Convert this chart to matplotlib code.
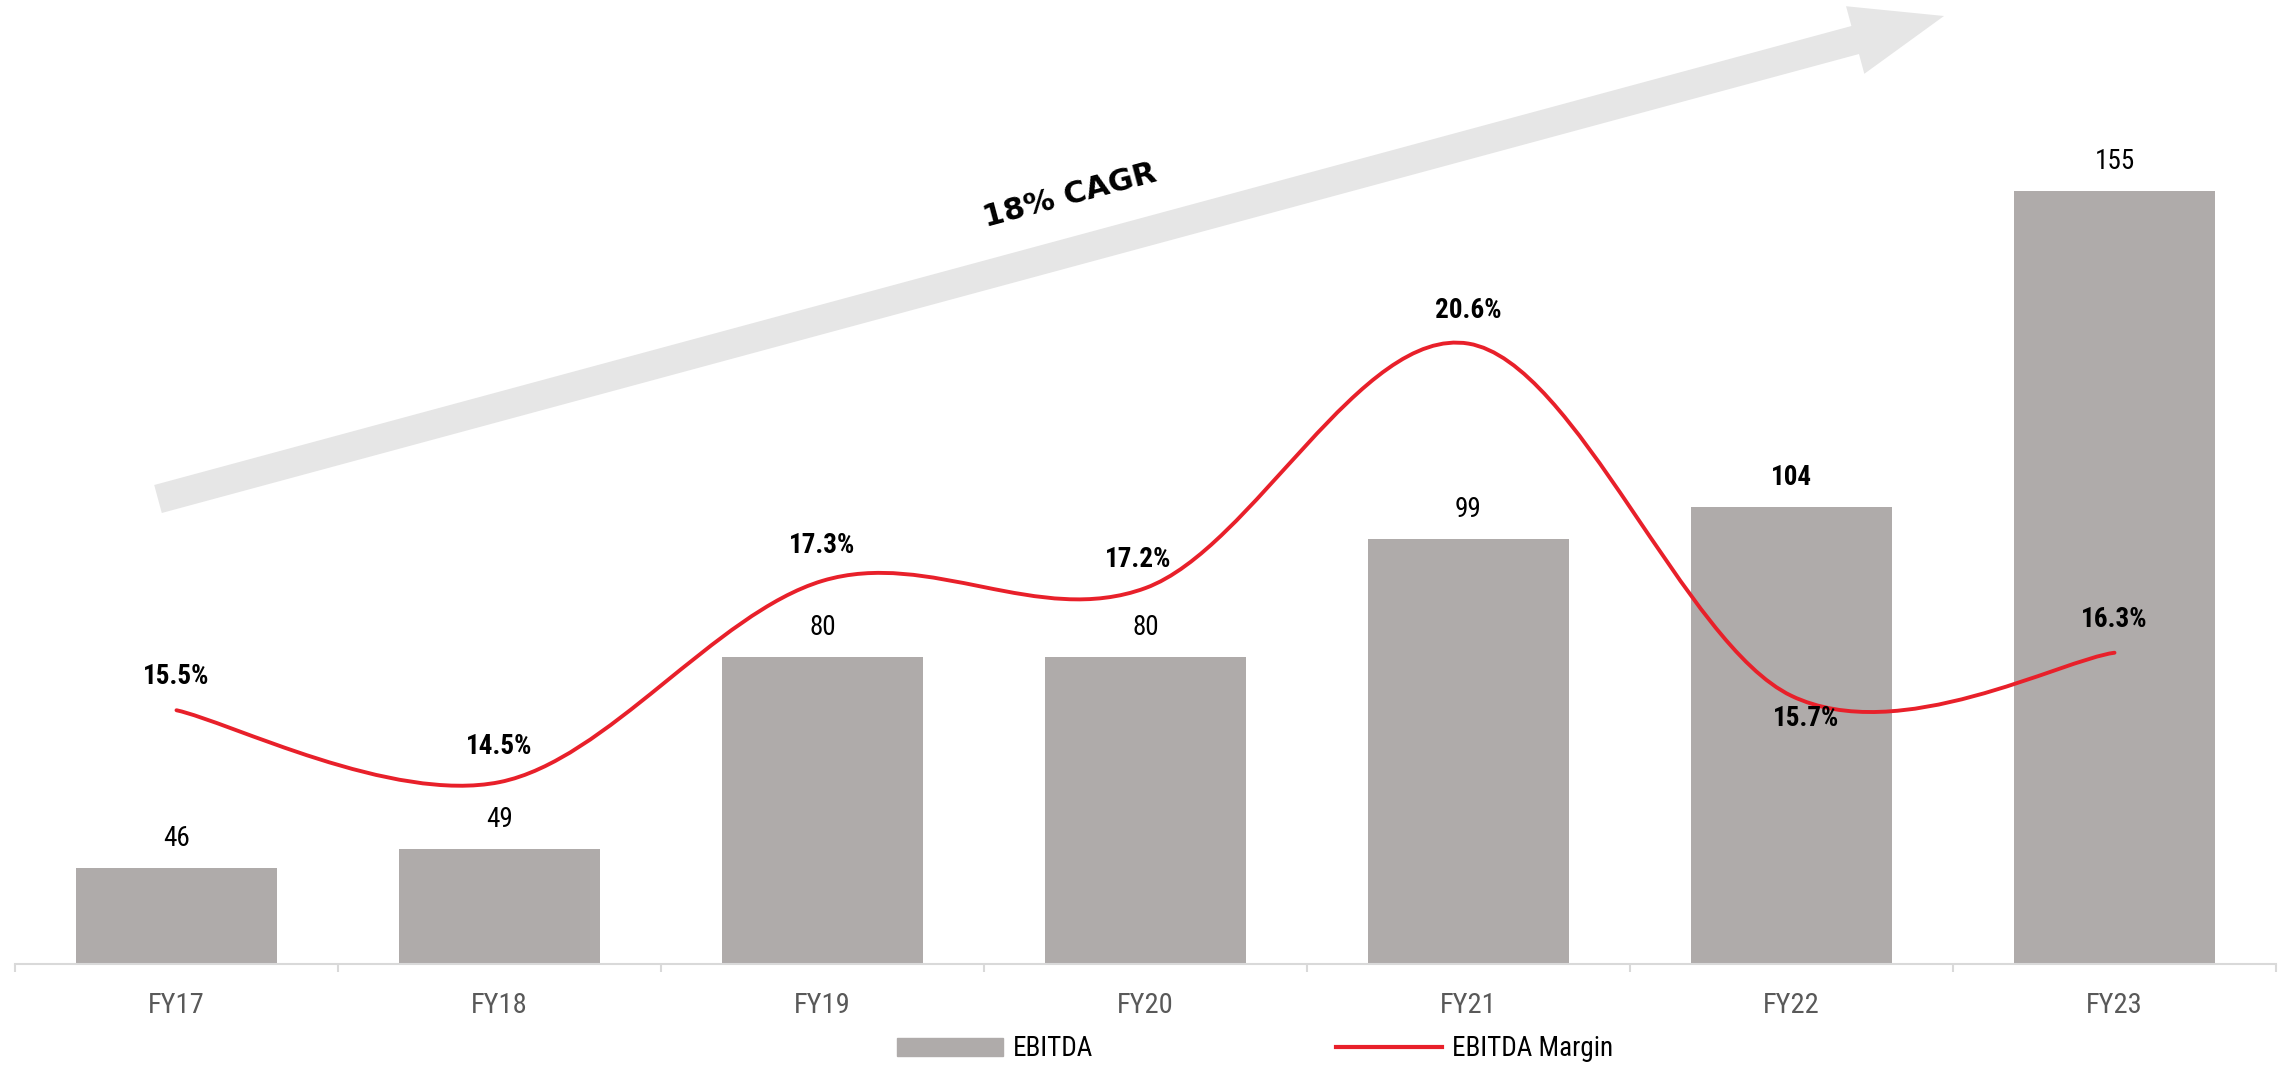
import numpy as np
import matplotlib
matplotlib.use("Agg")
import matplotlib.pyplot as plt
from matplotlib import font_manager
from matplotlib.path import Path
from matplotlib.patches import PathPatch, FancyArrow, Patch
from matplotlib.lines import Line2D
from matplotlib.transforms import IdentityTransform

years = ["FY17", "FY18", "FY19", "FY20", "FY21", "FY22", "FY23"]
ebitda = [46, 49, 80, 80, 99, 104, 155]
margin = [15.5, 14.5, 17.3, 17.2, 20.6, 15.7, 16.3]
cagr_text = "18% CAGR"

bar_color = "#afabaa"
line_color = "#e8202a"
axis_color = "#d9d9d9"

# pick a narrow font if one is around
names = {f.name for f in font_manager.fontManager.ttflist}
narrow = next((n for n in ["Liberation Sans Narrow", "Roboto Condensed", "Open Sans Condensed"] if n in names), "DejaVu Sans")
plt.rcParams["font.family"] = [narrow, "DejaVu Sans"]

W, H = 2288, 1068
fig = plt.figure(figsize=(W / 100, H / 100), dpi=100)
ax = fig.add_axes([15 / W, (H - 964) / H, (2276 - 15) / W, 964 / H])
ax.patch.set_visible(False)

x = np.arange(len(years))
ax.bar(x, ebitda, width=0.62, color=bar_color, zorder=2)
ax.set_ylim(30.5, 185.7)
ax.set_xlim(-0.5, len(years) - 0.5)

for s in ["top", "left", "right"]:
    ax.spines[s].set_visible(False)
ax.spines["bottom"].set_color(axis_color)
ax.spines["bottom"].set_linewidth(1.5)
ax.set_yticks([])
ax.set_xticks(x)
ax.set_xticklabels(years, fontsize=20.5, color="#595959")
ax.set_xticks(np.arange(-0.5, len(years)), minor=True)
ax.tick_params(axis="x", which="major", length=0, pad=20)
ax.tick_params(axis="x", which="minor", length=6, width=1.5, color=axis_color, direction="out")

for i, v in enumerate(ebitda):
    ax.annotate(str(v), (x[i], v), xytext=(0, 16), textcoords="offset pixels",
                ha="center", va="bottom", fontsize=19.5, color="black",
                fontweight="bold" if years[i] == "FY22" else "normal")

# margin line on a second axis, smoothed like an office chart
ax2 = ax.twinx()
ax2.set_ylim(11.97, 25.38)
ax2.set_yticks([])
for s in ax2.spines.values():
    s.set_visible(False)

pts = np.column_stack([x, margin]).astype(float)
verts = [pts[0]]
codes = [Path.MOVETO]
n = len(pts)
for i in range(n - 1):
    p_prev = pts[max(i - 1, 0)]
    p0, p1 = pts[i], pts[i + 1]
    p_next = pts[min(i + 2, n - 1)]
    c1 = p0 + (p1 - p_prev) / 6
    c2 = p1 - (p_next - p0) / 6
    verts += [c1, c2, p1]
    codes += [Path.CURVE4] * 3
ax2.add_patch(PathPatch(Path(verts, codes), fill=False, edgecolor=line_color,
                        lw=2.8, capstyle="round", zorder=3))

offsets = [(0, 34), (0, 36), (0, 35), (-7, 29), (0, 33), (15, -23), (0, 33)]
for i, v in enumerate(margin):
    dx, dy = offsets[i]
    ax2.annotate(f"{v}%", (x[i], v), xytext=(dx, dy), textcoords="offset pixels",
                 ha="center", va="center", fontsize=19.5, fontweight="bold", color="black")

# big growth arrow
tail = (158, H - 499)
tip = (1944, H - 16)
arrow = FancyArrow(tail[0], tail[1], tip[0] - tail[0], tip[1] - tail[1],
                   width=29, head_width=70, head_length=92, length_includes_head=True,
                   color="#e6e6e6", lw=0, transform=IdentityTransform(), zorder=-1)
fig.add_artist(arrow)
fig.text(1070 / W, 1 - 196 / H, cagr_text, rotation=15, ha="center", va="center",
         rotation_mode="anchor", fontsize=22, fontweight="bold", family="DejaVu Sans")

handles = [Patch(color=bar_color, label="EBITDA"),
           Line2D([], [], color=line_color, lw=3, label="EBITDA Margin")]
fig.legend(handles=handles, loc="center", bbox_to_anchor=(1255 / W, 1 - 1049 / H),
           ncol=2, frameon=False, fontsize=19.5, handlelength=3.9, handleheight=0.65,
           handletextpad=0.35, columnspacing=9.0)

fig.savefig("out.png", dpi=100)
